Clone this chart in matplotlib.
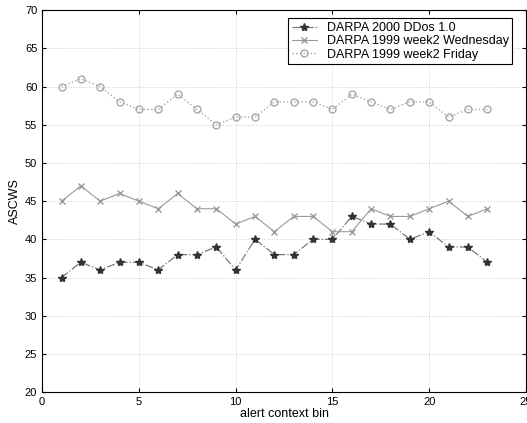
import matplotlib
matplotlib.use("Agg")
import matplotlib.pyplot as plt

plt.rcParams["font.family"] = ["Liberation Sans", "DejaVu Sans"]

bins = list(range(1, 24))
ddos = [35, 37, 36, 37, 37, 36, 38, 38, 39, 36, 40, 38, 38, 40, 40, 43,
        42, 42, 40, 41, 39, 39, 37]
wednesday = [45, 47, 45, 46, 45, 44, 46, 44, 44, 42, 43, 41, 43, 43, 41, 41,
             44, 43, 43, 44, 45, 43, 44]
friday = [60, 61, 60, 58, 57, 57, 59, 57, 55, 56, 56, 58, 58, 58, 57, 59,
          58, 57, 58, 58, 56, 57, 57]
labels = ["DARPA 2000 DDos 1.0", "DARPA 1999 week2 Wednesday",
          "DARPA 1999 week2 Friday"]

fig = plt.figure(figsize=(5.27, 4.23), dpi=100)
ax = fig.add_axes([0.080, 0.073, 0.918, 0.903])

ax.plot(bins, ddos, ls="-.", marker="*", ms=6, color="#7a7a7a",
        mfc="#333333", mec="#333333", lw=0.9, label=labels[0])
ax.plot(bins, wednesday, ls="-", marker="x", ms=4, color="#9a9a9a", lw=0.8,
        label=labels[1])
ax.plot(bins, friday, ls=":", marker="o", ms=5, mfc="none", color="#a8a8a8",
        lw=1.0, label=labels[2])

ax.set_xlim(0, 25)
ax.set_ylim(20, 70)
ax.set_xticks(range(0, 26, 5))
ax.set_yticks(range(20, 71, 5))
ax.grid(True, ls=":", color="#cccccc", lw=0.7)
ax.tick_params(direction="in", labelsize=8, top=True, right=True, length=3)
ax.set_xlabel("alert context bin", fontsize=9, labelpad=1)
ax.set_ylabel("ASCWS", fontsize=9, labelpad=3)

leg = ax.legend(loc="upper right", fontsize=9, fancybox=False,
                edgecolor="black", framealpha=1, borderpad=0.3,
                labelspacing=0.1, handlelength=2.0,
                bbox_to_anchor=(0.985, 0.995))
leg.get_frame().set_linewidth(0.8)

fig.savefig("out.png", dpi=100)
